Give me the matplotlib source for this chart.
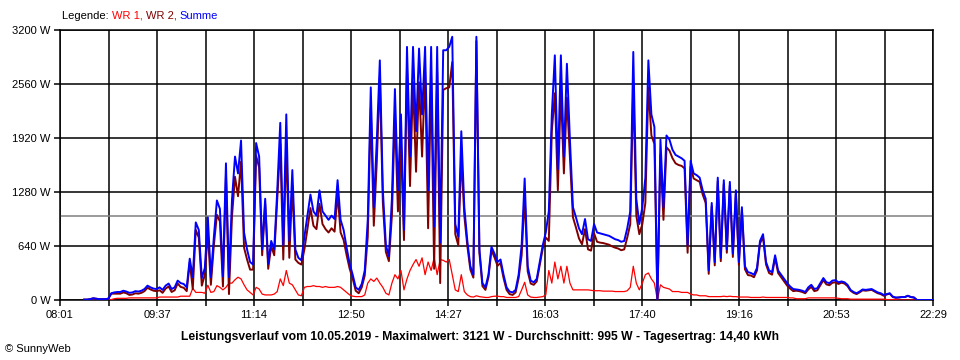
import numpy as np
import matplotlib
matplotlib.use("Agg")
import matplotlib.pyplot as plt

# Leistung in W, 3-Minuten-Raster ab 08:25 (x-Achse in Minuten nach 08:01)
start_min = 24
step_min = 3

summe = [5, 5, 10, 20, 15, 10, 10, 10, 15,
         80, 90, 95, 95, 110, 100, 85, 90, 105, 100, 110, 130,
         170, 150, 135, 130, 150, 120, 170, 195, 130, 150, 230, 200, 190, 150,
         490, 270, 920, 830, 260, 380, 980, 270, 750, 1180,
         1080, 280, 1620, 270, 1190, 1700, 1500, 1890, 800, 600, 450,
         420, 1860, 1700, 600, 1200, 430, 700, 600, 1300, 2100, 650,
         2200, 700, 1540, 600, 500, 470, 750, 1000, 1250, 1050, 1000,
         1300, 1050, 1000, 950, 1000, 960, 1420, 950,
         830, 620, 430, 300, 150, 120, 190, 350, 950, 2520, 1100,
         1900, 2840, 1300, 650, 520, 1200, 2500, 1300, 2200, 830, 3000, 1700, 3000, 2000, 2980,
         2200, 3000, 1300, 3000, 870, 3000, 680, 2960, 2960, 3000, 3120,
         900, 750, 2000, 1100, 700, 400, 300, 3120, 600, 200, 150, 300, 630, 550, 450, 480,
         300, 150, 100, 90, 120, 300, 650, 1440, 400, 230, 210, 250, 450, 650, 800,
         1050, 2200, 2900, 1550, 2900, 1700, 2800, 1900, 1100, 980, 850, 780, 960, 720, 700,
         900, 800, 790, 780, 770, 760, 740, 720, 710, 690, 700, 850, 1050,
         2940, 1200, 900, 1100, 1450, 2840, 2200, 2050, 0, 1900, 1100, 1950, 1900, 1780, 1720, 1700, 1680, 1650, 650, 1650,
         1500, 1480, 1450, 1300, 1200, 350, 1150, 450, 1450, 500, 1420,
         600, 1400, 550, 1300, 450, 1100, 400, 330, 320, 300, 380,
         700, 780, 450, 350, 330, 530, 350, 300, 250, 200, 160, 130,
         125, 120, 110, 95, 150, 180, 130, 140, 200, 260, 210, 200, 230, 235,
         210, 220, 210, 180, 120, 95, 80, 100, 125, 120, 125, 130, 110, 90, 80, 60,
         70, 80, 40, 30, 30, 35, 35, 50, 35, 30, 0, 0, 0, 0, 0, 0, 0]

wr1 = [0, 0, 0, 0, 0, 0, 0, 0, 0,
       5, 15, 20, 20, 20, 20, 25, 25, 25, 25, 25, 25,
       25, 25, 25, 25, 35, 35, 35, 35, 35, 35, 35, 45, 45, 45,
       45, 140, 90, 90, 90, 80, 175, 90, 100, 170,
       150, 120, 150, 200, 200, 240, 270, 250, 180, 120, 90,
       60, 150, 130, 70, 60, 60, 60, 70, 100, 250, 170,
       350, 200, 180, 120, 60, 50, 150, 160, 160, 170, 160,
       160, 150, 160, 150, 150, 150, 160, 150,
       120, 90, 60, 45, 40, 40, 40, 60, 200, 250, 220,
       260, 200, 150, 80, 60, 200, 300, 250, 350, 120, 250, 350, 420, 480, 400,
       500, 300, 450, 350, 500, 300, 480, 470, 450, 480, 300,
       120, 100, 300, 100, 60, 40, 35, 50, 40, 35, 30, 30, 40, 45, 45, 40,
       40, 30, 30, 30, 30, 40, 120, 210, 60, 35, 30, 30, 35, 40, 60,
       350, 200, 450, 250, 400, 200, 400, 200, 120, 120, 120, 120, 120, 120, 115,
       110, 110, 110, 105, 105, 105, 105, 100, 100, 100, 100, 110, 150,
       400, 200, 120, 200, 300, 320, 250, 200, 0, 180, 150, 140, 130, 100, 100, 100, 90, 90, 90, 70,
       60, 60, 50, 50, 50, 40, 40, 40, 40, 40, 45,
       40, 45, 40, 40, 35, 35, 35, 35, 30, 30, 30,
       30, 35, 30, 30, 30, 30, 30, 30, 30, 30, 25, 25,
       15, 15, 15, 15, 25, 25, 25, 25, 25, 25, 25, 25, 25, 25,
       20, 15, 15, 15, 10, 10, 10, 10, 10, 10, 10, 10, 10, 10, 10, 10,
       5, 5, 5, 5, 0, 0, 0, 0, 0, 0, 0, 0, 0, 0, 0, 0, 0]

# WR 2 = Summe - WR 1
wr2 = np.clip(np.array(summe) - np.array(wr1), 0, None)

durchschnitt = 995
y_ticks = [0, 640, 1280, 1920, 2560, 3200]
x_labels = ["08:01", "09:37", "11:14", "12:50", "14:27",
            "16:03", "17:40", "19:16", "20:53", "22:29"]
titel = ("Leistungsverlauf vom 10.05.2019 - Maximalwert: 3121 W - "
         "Durchschnitt: 995 W - Tagesertrag: 14,40 kWh")

plt.rcParams['font.family'] = ['Liberation Sans', 'DejaVu Sans']

fig = plt.figure(figsize=(9.6, 3.6), dpi=100)
ax = fig.add_axes([60 / 960, 60 / 360, 873 / 960, 270 / 360])

t = start_min + step_min * np.arange(len(summe))
ax.axhline(durchschnitt, color='#808080', lw=1.1, zorder=1)
ax.plot(t, wr1, color='#ff0000', lw=0.9, zorder=3)
ax.plot(t, wr2, color='#800000', lw=1.4, zorder=4)
ax.plot(t, summe, color='#0000ff', lw=1.4, zorder=5)

ax.set_xlim(0, 868)
ax.set_ylim(0, 3200)
ticks = np.linspace(0, 868, 19)
ax.set_xticks(ticks)
labs = []
for i in range(19):
    labs.append(x_labels[i // 2] if i % 2 == 0 else "")
ax.set_xticklabels(labs)
ax.set_yticks(y_ticks)
ax.set_yticklabels([str(v) + " W" for v in y_ticks])
ax.grid(True, color='black', lw=1.1)
ax.set_axisbelow(True)
ax.tick_params(direction='out', length=4, width=1.1, labelsize=8, pad=3, colors='black')
for s in ax.spines.values():
    s.set_linewidth(1.1)
    s.set_color('black')

# Legende oben links, farbige Teile
r = fig.canvas.get_renderer()
xpos = 62 / 960
for txt, col in [("Legende: ", "black"), ("WR 1, ", "#ff0000"),
                 ("WR 2, ", "#800000"), ("Summe", "#0000ff")]:
    tt = fig.text(xpos, 1 - 16 / 360, txt, color=col, fontsize=8, ha='left', va='center')
    bb = tt.get_window_extent(renderer=r)
    xpos += bb.width / 960

fig.text(0.5, 1 - 337 / 360, titel, ha='center', va='center', fontsize=8.7, fontweight='bold')
fig.text(5 / 960, 1 - 349 / 360, "\u00a9 SunnyWeb", ha='left', va='center', fontsize=8)

fig.savefig('out.png', dpi=100)
